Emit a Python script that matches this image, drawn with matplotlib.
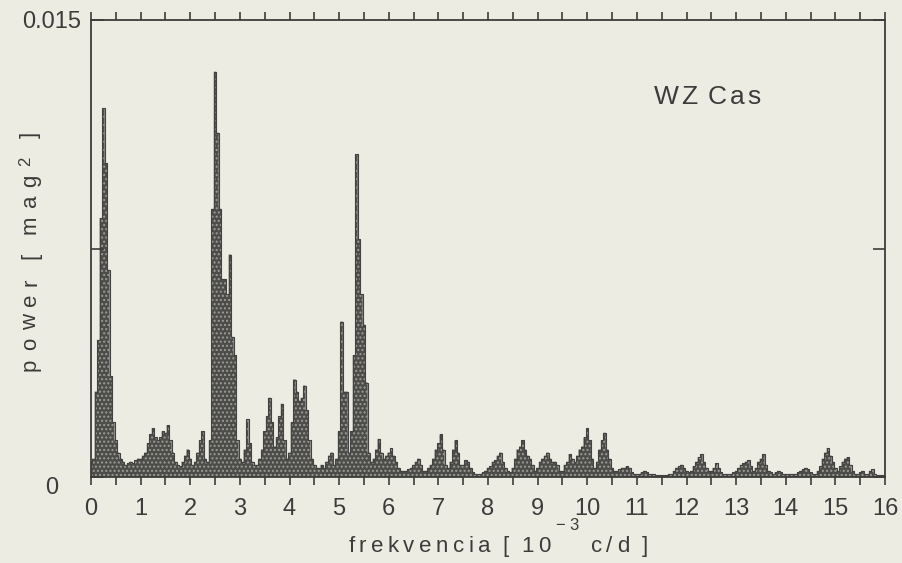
import numpy as np
import matplotlib.pyplot as plt
from matplotlib.font_manager import FontProperties
from matplotlib.transforms import IdentityTransform, ScaledTranslation

# power spectrum of WZ Cas (units of 1e-3 mag^2)
freq = np.round(np.arange(0, 16.001, 0.05), 2)
power_e3 = [
    0.5, 0.6, 2.8, 4.5, 8.5, 12.1, 10.3, 6.8, 3.3, 1.8, 1.2, 0.8, 0.6, 0.5, 0.4, 0.45, 0.5, 0.45, 0.55, 0.6,
    0.6, 0.7, 0.8, 1.1, 1.4, 1.6, 1.3, 1.2, 1.3, 1.5, 1.45, 1.7, 1.2, 0.8, 0.5, 0.4, 0.35, 0.5, 0.7, 0.9,
    0.6, 0.4, 0.5, 0.8, 1.2, 1.5, 0.6, 0.5, 1.2, 8.8, 13.3, 11.3, 8.8, 6.5, 6.5, 6.0, 7.3, 4.6, 4.0, 1.2,
    0.6, 0.5, 0.9, 1.9, 1.1, 0.5, 0.4, 0.4, 0.6, 0.9, 1.5, 2.0, 2.6, 1.8, 1.0, 1.3, 2.0, 2.4, 1.2, 0.6,
    0.8, 1.8, 3.2, 2.8, 2.5, 2.6, 3.0, 2.2, 1.2, 0.6, 0.4, 0.3, 0.3, 0.4, 0.3, 0.5, 0.7, 0.8, 0.4, 0.6,
    1.5, 5.1, 2.8, 2.8, 0.8, 1.5, 4.0, 10.6, 7.8, 6.0, 5.0, 3.1, 0.8, 0.5, 0.6, 0.9, 1.25, 0.8, 0.6, 0.7,
    0.8, 0.95, 0.7, 0.5, 0.3, 0.2, 0.2, 0.2, 0.25, 0.3, 0.4, 0.5, 0.6, 0.4, 0.2, 0.2, 0.3, 0.4, 0.6, 0.9,
    1.1, 1.4, 0.9, 0.4, 0.3, 0.5, 0.9, 1.2, 0.8, 0.4, 0.4, 0.55, 0.5, 0.3, 0.15, 0.1, 0.1, 0.1, 0.15, 0.2,
    0.3, 0.35, 0.5, 0.55, 0.7, 0.8, 0.5, 0.3, 0.2, 0.15, 0.3, 0.6, 0.9, 1.0, 1.2, 0.9, 0.7, 0.6, 0.4, 0.2,
    0.3, 0.5, 0.6, 0.7, 0.8, 0.6, 0.5, 0.5, 0.4, 0.2, 0.2, 0.4, 0.5, 0.75, 0.6, 0.5, 0.7, 0.9, 1.0, 1.3,
    1.6, 1.2, 0.6, 0.3, 0.5, 0.9, 1.2, 1.45, 0.9, 0.6, 0.3, 0.2, 0.2, 0.25, 0.3, 0.3, 0.35, 0.3, 0.15, 0.1,
    0.1, 0.1, 0.15, 0.2, 0.15, 0.1, 0.1, 0.1, 0.05, 0.05, 0.05, 0.05, 0.05, 0.1, 0.1, 0.2, 0.3, 0.35, 0.4, 0.3,
    0.2, 0.15, 0.2, 0.35, 0.5, 0.65, 0.75, 0.5, 0.3, 0.2, 0.2, 0.3, 0.45, 0.3, 0.15, 0.1, 0.1, 0.1, 0.1, 0.15,
    0.2, 0.3, 0.4, 0.45, 0.5, 0.55, 0.35, 0.2, 0.3, 0.5, 0.6, 0.75, 0.4, 0.2, 0.15, 0.1, 0.15, 0.2, 0.15, 0.1,
    0.1, 0.1, 0.1, 0.1, 0.1, 0.15, 0.2, 0.25, 0.3, 0.25, 0.15, 0.1, 0.1, 0.2, 0.35, 0.6, 0.8, 0.95, 0.7, 0.5,
    0.3, 0.2, 0.35, 0.5, 0.6, 0.65, 0.4, 0.2, 0.1, 0.1, 0.15, 0.2, 0.1, 0.1, 0.2, 0.25, 0.1, 0.05, 0.05, 0.05,
    0.0,
]
power = np.array(power_e3) * 1e-3

xticks_major = list(range(0, 17))
xticks_minor = [i + 0.5 for i in range(16)]
star_name = "WZ Cas"
# label runs: (text, font size, superscript rise in px)
xlabel_runs = [("frekvencia [ 10", 16, 0), ("\u22123", 12, 22), (" c/d ]", 16, 0)]
ylabel_runs = [("power [ mag", 16, 0), ("2", 12, 6), (" ]", 16, 0)]

FONT = "Liberation Sans"
paper = "#edece3"
ink = "#3c3c3a"

fig = plt.figure(figsize=(9.02, 5.63), dpi=100, facecolor=paper)
ax = fig.add_axes([91 / 902, 86 / 563, 794 / 902, 457 / 563], facecolor=paper)

ax.fill_between(freq, power, step="mid", facecolor="#4c4c4a", edgecolor="#9d9c93",
                hatch="....", linewidth=0)
ax.step(freq, power, where="mid", color="#424240", linewidth=0.8)

ax.set_xlim(0, 16)
ax.set_ylim(0, 0.015)

for s in ax.spines.values():
    s.set_color(ink)
    s.set_linewidth(1.3)

ax.set_xticks(xticks_major)
ax.set_xticks(xticks_minor, minor=True)
ax.set_xticklabels([str(v) for v in xticks_major], fontsize=17, color=ink, family=FONT)
ax.tick_params(axis="x", which="both", direction="out", length=6, width=1.2,
               color=ink, top=True, pad=9)

ax.set_yticks([0, 0.0075, 0.015])
ylabels = ax.set_yticklabels(["0", "", "0.015"], fontsize=17, color=ink, family=FONT, ha="center")
ax.tick_params(axis="y", direction="in", length=9, width=1.2, color=ink,
               right=True, pad=28)
ylabels[0].set_transform(ylabels[0].get_transform()
                         + ScaledTranslation(0, -6 / 72, fig.dpi_scale_trans))


def draw_tracked(runs, center, base, gap, vertical=False):
    # letter-spaced text, placed glyph by glyph in pixel coordinates
    rend = fig.canvas.get_renderer()
    glyphs = []
    for text, size, rise in runs:
        prop = FontProperties(family=FONT, size=size)
        for ch in text:
            if ch == " ":
                w = size * 0.2
            else:
                w = rend.get_text_width_height_descent(ch, prop, ismath=False)[0]
            glyphs.append((ch, size, rise, w))
    total = sum(g[3] for g in glyphs) + gap * (len(glyphs) - 1)
    pos = center - total / 2
    for ch, size, rise, w in glyphs:
        if ch != " ":
            if vertical:
                fig.text(base - rise, pos, ch, rotation=90, rotation_mode="anchor",
                         ha="left", va="baseline", fontsize=size, family=FONT,
                         color=ink, transform=IdentityTransform())
            else:
                fig.text(pos, base + rise, ch, ha="left", va="baseline", fontsize=size,
                         family=FONT, color=ink, transform=IdentityTransform())
        pos += w + gap


draw_tracked(xlabel_runs, center=498, base=563 - 552, gap=4.5)
draw_tracked(ylabel_runs, center=563 - 251, base=36, gap=8, vertical=True)
draw_tracked([(star_name, 19, 0)], center=707, base=563 - 104, gap=3)

fig.savefig("out.png", dpi=100, facecolor=paper)
